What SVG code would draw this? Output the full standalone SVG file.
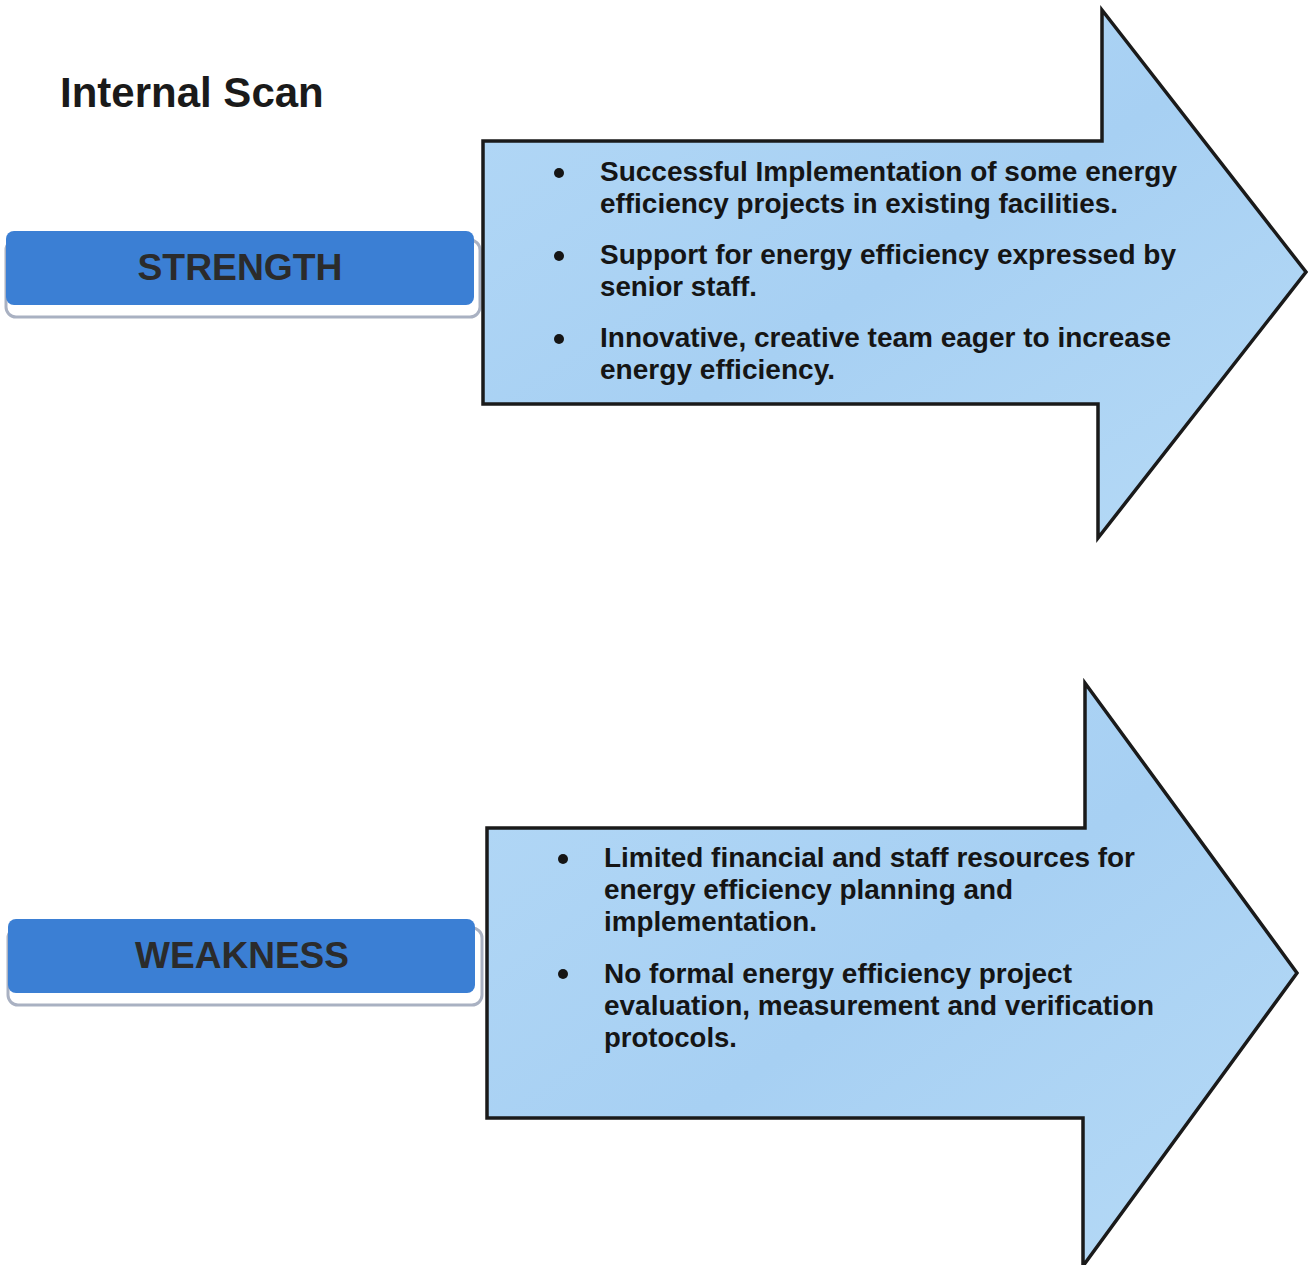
<svg xmlns="http://www.w3.org/2000/svg" width="1314" height="1265" viewBox="0 0 1314 1265">
<style>
.title{font-family:"Liberation Sans",Arial,sans-serif;font-weight:bold;font-size:42px;fill:#1a1a1a}
.lbl{font-family:"Liberation Sans",Arial,sans-serif;font-weight:bold;font-size:37px;fill:#2b2b2b;text-anchor:middle}
.body{font-family:"Liberation Sans",Arial,sans-serif;font-weight:bold;font-size:28px;fill:#151515}
.arrow{fill:url(#blue);stroke:#1a1a1a;stroke-width:3.5;stroke-linejoin:miter}
.box{fill:#3b7fd4}
.shadow{fill:#ffffff;stroke:#a9b1c2;stroke-width:3}
.dot{fill:#151515}
</style>
<defs>
<linearGradient id="blue" x1="0" y1="0" x2="1" y2="1">
<stop offset="0" stop-color="#b3d8f6"/>
<stop offset="0.5" stop-color="#a7d0f3"/>
<stop offset="1" stop-color="#b6daf6"/>
</linearGradient>
</defs>
<rect width="1314" height="1265" fill="#ffffff"/>
<text class="title" x="60" y="107">Internal Scan</text>

<g id="strength">
<rect class="shadow" x="6" y="240" width="474" height="77" rx="10"/>
<rect class="box" x="6" y="231" width="468" height="74" rx="8"/>
<text class="lbl" x="240" y="280" textLength="205" lengthAdjust="spacingAndGlyphs">STRENGTH</text>
</g>

<g id="strength-arrow">
<polygon class="arrow" points="483,141 1102,141 1102,10 1306,272 1098,538 1098,404 483,404"/>
<circle class="dot" cx="559" cy="173" r="5"/>
<circle class="dot" cx="559" cy="256" r="5"/>
<circle class="dot" cx="559" cy="339" r="5"/>
<text class="body" x="600" y="181" textLength="577" lengthAdjust="spacingAndGlyphs">Successful Implementation of some energy</text>
<text class="body" x="600" y="213" textLength="518" lengthAdjust="spacingAndGlyphs">efficiency projects in existing facilities.</text>
<text class="body" x="600" y="264" textLength="576" lengthAdjust="spacingAndGlyphs">Support for energy efficiency expressed by</text>
<text class="body" x="600" y="296" textLength="157" lengthAdjust="spacingAndGlyphs">senior staff.</text>
<text class="body" x="600" y="347" textLength="571" lengthAdjust="spacingAndGlyphs">Innovative, creative team eager to increase</text>
<text class="body" x="600" y="379" textLength="235" lengthAdjust="spacingAndGlyphs">energy efficiency.</text>
</g>

<g id="weakness">
<rect class="shadow" x="8" y="928" width="474" height="77" rx="10"/>
<rect class="box" x="8" y="919" width="467" height="74" rx="8"/>
<text class="lbl" x="242" y="968" textLength="214" lengthAdjust="spacingAndGlyphs">WEAKNESS</text>
</g>

<g id="weakness-arrow">
<polygon class="arrow" points="487,828 1085,828 1085,683 1297,973 1083,1266 1083,1118 487,1118"/>
<circle class="dot" cx="563" cy="859" r="5"/>
<circle class="dot" cx="563" cy="974" r="5"/>
<text class="body" x="604" y="867" textLength="531" lengthAdjust="spacingAndGlyphs">Limited financial and staff resources for</text>
<text class="body" x="604" y="899" textLength="409" lengthAdjust="spacingAndGlyphs">energy efficiency planning and</text>
<text class="body" x="604" y="931" textLength="213" lengthAdjust="spacingAndGlyphs">implementation.</text>
<text class="body" x="604" y="983" textLength="468" lengthAdjust="spacingAndGlyphs">No formal energy efficiency project</text>
<text class="body" x="604" y="1015" textLength="550" lengthAdjust="spacingAndGlyphs">evaluation, measurement and verification</text>
<text class="body" x="604" y="1047" textLength="133" lengthAdjust="spacingAndGlyphs">protocols.</text>
</g>
</svg>
